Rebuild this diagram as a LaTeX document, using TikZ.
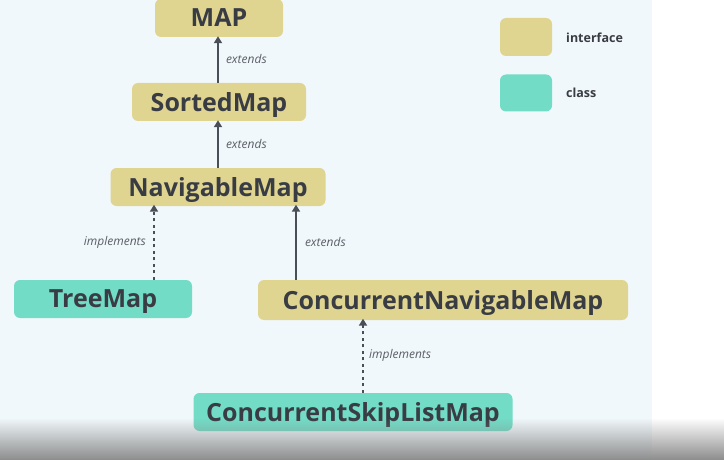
\documentclass[tikz,border=0pt]{standalone}
\usepackage{fontspec}
\setmainfont{Open Sans}
\usetikzlibrary{arrows.meta,fadings}
\definecolor{bgblue}{HTML}{F1F8FB}
\definecolor{ifill}{HTML}{DFD591}
\definecolor{cfill}{HTML}{72DCC6}
\definecolor{txt}{HTML}{3A3C44}
\definecolor{lbl}{HTML}{5A5E66}
\definecolor{ln}{HTML}{4A4E56}
\tikzset{
  box/.style={rounded corners=6pt, minimum height=38pt, inner sep=0pt, text depth=0pt,
    font=\fontsize{25}{28}\selectfont\bfseries, text=txt},
  iface/.style={box, fill=ifill},
  cls/.style={box, fill=cfill},
  lab/.style={font=\fontsize{12}{14}\selectfont\itshape, text=lbl, inner sep=1pt},
  legtxt/.style={font=\fontsize{12.5}{14}\selectfont\bfseries, text=txt, anchor=west, inner sep=0pt},
  ext/.style={draw=ln, line width=2pt, -{Triangle[length=7pt,width=8pt]}},
  impl/.style={draw=ln, line width=2.4pt, dash pattern=on 3pt off 3.5pt, -{Triangle[length=7pt,width=8pt]}},
}
\begin{document}
\begin{tikzpicture}[x=1pt,y=-1pt]
\useasboundingbox (0,0) rectangle (724,460);
\fill[white] (0,0) rectangle (724,460);
\fill[bgblue] (0,0) rectangle (652,460);

\node[iface, minimum width=128pt] (map) at (219,18) {MAP};
\node[iface, minimum width=174pt] (sorted) at (219,102) {SortedMap};
\node[iface, minimum width=215pt] (nav) at (218,187) {NavigableMap};
\node[cls, minimum width=178pt] (tree) at (103,299) {TreeMap};
\node[iface, minimum width=370pt, minimum height=40pt] (cnm) at (443,300) {ConcurrentNavigableMap};
\node[cls, minimum width=319pt] (cslm) at (353,412) {ConcurrentSkipListMap};

\node[fill=ifill, rounded corners=6pt, minimum width=52pt, minimum height=38pt] (legi) at (526,37) {};
\node[fill=cfill, rounded corners=6pt, minimum width=52pt, minimum height=37pt] (legc) at (526,93) {};
\node[legtxt] (legit) at (566,38) {interface};
\node[legtxt] (legct) at (566,93) {class};

\draw[ext] (sorted.north -| 218,0) -- ([yshift=1pt]map.south -| 218,0)
  node[lab, midway, right=6pt] (l1) {extends};
\draw[ext] (nav.north -| 218,0) -- ([yshift=1pt]sorted.south -| 218,0)
  node[lab, midway, right=6pt] (l2) {extends};
\draw[impl] (tree.north -| 154,0) -- ([yshift=1.5pt]nav.south -| 154,0)
  node[lab, midway, left=6pt] (l3) {implements};
\draw[ext] (cnm.north -| 296,0) -- ([yshift=1.5pt]nav.south -| 296,0)
  node[lab, midway, right=7pt] (l4) {extends};
\draw[impl] (cslm.north -| 363,0) -- ([yshift=1.5pt]cnm.south -| 363,0)
  node[lab, midway, right=4pt] (l5) {implements};

\fill[black!45, path fading=north] (0,418) rectangle (724,460);
\end{tikzpicture}
\end{document}
